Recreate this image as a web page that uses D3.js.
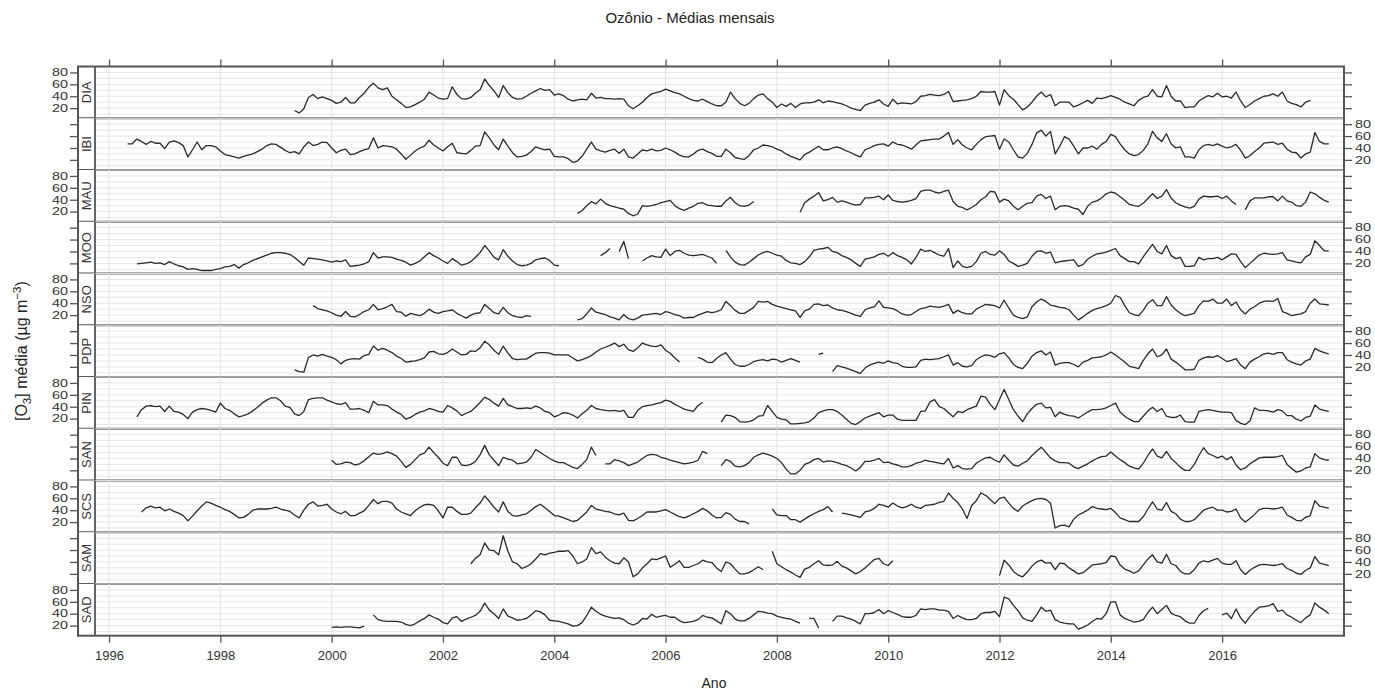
<!DOCTYPE html>
<html>
<head>
<meta charset="utf-8">
<script src="https://cdn.jsdelivr.net/npm/d3@7"></script>
<style>
  body { margin: 0; background: #fff; }
  text { font-family: Arial, "Liberation Sans", sans-serif; }
</style>
</head>
<body>
<svg id="chart" width="1375" height="693"></svg>
<script>
// Monthly ozone means per station; each series starts at [year, month] and runs month by month (null = no data)
const stations = ["DIA", "IBI", "MAU", "MOO", "NSO", "PDP", "PIN", "SAN", "SCS", "SAM", "SAD"];
const yTickValues = [20, 40, 60, 80];
const xTickValues = [1996, 1998, 2000, 2002, 2004, 2006, 2008, 2010, 2012, 2014, 2016];

const DIA_start = [1999, 5];
const DIA = [16,12,19,38,43,36,39,36,
  33,28,30,38,29,29,38,45,55,62,54,51,
  54,40,34,28,21,22,26,30,35,47,42,37,
  35,36,56,43,36,35,38,45,51,69,58,49,
  38,58,46,38,35,36,40,45,49,53,50,51,
  42,44,41,35,32,34,35,34,45,37,38,36,
  36,35,36,35,24,19,24,30,38,44,46,48,
  52,49,46,44,40,36,33,32,35,31,27,24,
  24,30,47,36,28,24,28,36,42,44,36,30,
  21,27,23,28,21,27,29,29,30,34,29,32,
  31,29,27,24,20,18,16,25,28,30,34,27,
  23,35,27,29,28,27,31,40,41,43,42,41,
  43,48,31,32,33,34,36,40,48,47,47,48,
  25,51,41,35,26,17,22,30,40,47,39,43,
  24,30,30,30,22,25,29,33,28,37,36,38,
  41,38,35,30,27,24,33,38,40,51,40,39,
  58,40,32,32,21,22,22,32,37,41,39,45,
  39,40,37,47,32,21,26,32,36,40,41,44,
  40,47,32,28,26,22,30,33];

const IBI_start = [1996, 5];
const IBI = [47,47,55,51,46,51,48,48,
  39,50,52,49,44,25,37,50,37,44,44,42,
  35,29,27,25,23,26,28,30,34,38,44,47,
  46,41,36,32,34,30,42,50,44,46,50,49,
  40,32,36,38,29,30,34,37,39,57,40,44,
  43,42,38,30,21,28,35,40,43,53,45,40,
  35,42,48,32,31,30,36,43,44,67,57,45,
  37,55,43,32,25,26,28,34,42,39,37,38,
  26,25,25,22,16,18,26,38,50,38,35,33,
  36,38,31,38,25,23,30,37,35,38,35,36,
  40,37,33,28,25,25,30,36,38,34,31,26,
  26,38,32,24,22,21,27,37,40,45,44,42,
  38,35,30,26,23,20,29,33,38,43,37,37,
  40,42,39,35,32,28,25,37,40,44,46,47,
  43,50,46,45,42,38,45,52,53,54,55,55,
  60,66,46,54,45,40,37,46,54,59,60,61,
  38,55,50,37,25,23,31,46,65,70,60,68,
  30,43,59,55,43,30,40,40,43,38,46,51,
  63,59,47,37,30,27,29,36,47,68,57,51,
  64,47,40,42,25,25,23,37,44,46,44,47,
  43,40,42,46,36,23,27,34,40,48,49,50,
  46,48,38,33,32,23,30,33,66,51,47,47];

const MAU_start = [2004, 6];
const MAU = [17,22,30,37,33,41,34,
  30,28,26,24,17,13,16,30,29,30,32,35,
  37,39,30,25,22,26,29,34,35,31,30,29,
  29,38,44,35,30,29,31,37,null,null,null,null,
  null,null,null,null,null,19,35,41,46,52,38,40,
  44,36,38,36,33,31,32,43,43,44,46,40,
  48,39,37,36,37,39,42,54,56,56,53,51,
  54,56,37,29,27,23,27,32,40,45,54,53,
  36,41,38,29,23,29,34,35,46,49,42,46,
  23,29,30,29,26,24,15,29,36,38,43,50,
  53,51,45,39,32,30,29,34,42,50,42,46,
  57,43,35,31,28,26,29,41,46,45,45,46,
  42,46,38,32,null,23,38,43,43,43,45,45,
  38,46,38,36,30,29,36,53,50,44,39,36];

const MOO_start = [1996, 7];
const MOO = [19,20,21,22,20,21,
  18,23,19,16,14,10,11,10,8,8,8,10,
  11,14,15,18,12,18,21,25,28,31,34,37,
  38,38,37,35,30,23,17,29,28,27,26,24,
  22,24,23,26,15,16,17,19,23,38,29,31,
  31,30,27,25,22,17,20,24,31,38,33,29,
  24,20,28,23,17,19,23,30,38,50,41,30,
  26,43,32,24,18,16,17,20,26,28,29,25,
  17,16,null,null,null,null,null,null,null,null,33,38,
  45,null,40,57,28,null,null,24,29,33,31,30,
  44,33,40,42,37,34,33,34,35,32,29,20,
  null,42,31,22,18,17,22,28,34,38,40,37,
  34,32,25,21,20,18,23,31,42,44,45,47,
  40,38,33,30,26,20,15,27,29,31,35,37,
  32,38,33,30,26,19,30,44,40,42,38,34,
  32,45,13,24,15,13,15,23,37,40,35,34,
  41,35,24,20,15,17,20,32,40,41,37,39,
  21,23,24,25,26,15,18,27,32,36,37,39,
  42,45,33,28,23,23,19,31,42,52,40,36,
  50,33,28,30,15,15,16,30,26,28,28,30,
  26,31,36,35,23,13,20,27,34,37,36,35,
  36,38,26,24,22,21,31,35,58,50,41,41];

const NSO_start = [1999, 9];
const NSO = [36,31,29,27,
  24,20,18,26,18,17,21,26,29,38,29,31,
  34,38,26,25,18,23,21,19,23,30,25,23,
  26,27,29,23,19,15,20,23,24,38,31,24,
  22,33,24,19,17,16,19,18,null,null,null,null,
  null,null,null,null,null,12,14,22,32,25,23,21,
  17,15,12,21,14,12,15,20,21,22,23,21,
  26,24,21,19,15,16,16,20,23,26,24,26,
  29,43,36,28,23,23,28,33,43,42,43,38,
  35,33,31,29,27,16,27,30,38,39,36,37,
  32,29,28,26,23,20,18,29,32,34,44,33,
  32,31,27,22,20,21,26,31,32,35,34,33,
  35,38,23,28,24,22,22,30,34,38,37,36,
  32,45,32,20,16,14,17,34,42,47,43,37,
  35,33,32,29,20,12,17,23,28,31,33,36,
  40,53,50,36,24,21,19,28,40,46,36,36,
  51,37,29,23,19,21,23,36,44,43,47,40,
  40,47,36,42,29,22,30,34,40,43,44,43,
  48,26,23,19,21,22,26,40,47,39,38,37];

const PDP_start = [1999, 5];
const PDP = [15,12,11,36,40,38,41,38,
  36,32,25,31,33,34,33,39,41,55,48,51,
  48,44,38,34,28,29,30,32,35,45,46,42,
  41,44,50,45,40,41,47,46,52,63,57,48,
  41,55,43,34,32,33,33,38,43,44,44,43,
  40,40,40,40,35,30,32,35,39,45,50,53,
  56,60,54,58,49,46,52,60,57,55,54,57,
  48,43,35,28,null,null,null,36,33,28,27,34,
  40,44,33,24,21,21,24,29,31,32,30,33,
  32,28,31,34,31,28,null,null,null,41,43,null,
  12,22,20,18,15,12,9,18,23,26,28,26,
  30,27,26,21,19,19,20,31,33,32,33,34,
  37,40,23,27,21,20,22,32,37,40,39,36,
  42,44,35,24,19,17,26,38,44,47,40,45,
  23,26,27,27,24,20,28,31,35,36,37,40,
  45,40,34,28,21,19,17,31,42,50,37,40,
  50,33,28,22,15,15,16,31,35,37,36,39,
  34,29,31,34,23,17,28,33,37,42,43,41,
  44,44,32,28,25,23,30,33,51,47,44,42];

const PIN_start = [1996, 7];
const PIN = [23,35,41,42,40,41,
  32,41,32,31,27,20,31,35,37,36,34,31,
  46,37,34,28,23,25,28,33,39,46,51,55,
  55,50,41,39,28,25,32,52,54,55,55,51,
  48,45,44,47,36,36,37,34,30,49,43,43,
  42,36,31,27,19,22,27,31,33,37,35,32,
  31,42,38,33,25,29,32,39,47,56,52,46,
  41,54,43,40,37,37,38,37,41,38,32,30,
  23,26,30,29,26,21,28,34,42,37,35,34,
  33,34,32,34,22,22,34,40,42,43,45,47,
  51,49,44,40,36,34,32,42,47,null,null,null,
  14,26,25,22,15,14,15,18,24,25,42,32,
  22,19,18,11,11,12,13,15,21,30,33,35,
  35,32,26,19,12,10,15,21,24,27,30,23,
  26,26,19,17,17,17,17,32,33,48,52,40,
  37,30,23,32,30,35,38,41,58,56,44,35,
  52,69,52,35,24,15,28,37,44,46,38,39,
  23,31,27,25,24,21,26,31,35,35,36,38,
  42,46,31,24,19,15,15,24,33,39,32,37,
  24,22,22,26,15,14,14,32,34,35,34,32,
  31,31,30,17,12,10,16,38,34,34,33,31,
  35,33,25,25,19,16,22,24,43,36,34,32];

const SAN_start = [2000, 1];
const SAN = [37,30,31,34,33,29,31,36,43,49,47,48,
  51,48,44,35,25,30,38,46,49,59,50,42,
  32,28,42,42,29,28,30,35,46,62,46,37,
  28,42,39,37,31,32,34,42,55,50,45,40,
  36,33,33,29,25,23,30,38,59,45,null,31,
  31,38,36,33,28,31,34,40,45,47,46,42,
  40,37,35,33,31,32,34,37,52,48,null,null,
  28,38,35,27,26,28,33,42,46,49,47,44,
  40,33,22,14,14,20,30,33,38,40,34,36,
  35,33,30,28,24,19,25,35,35,37,40,33,
  34,31,29,26,26,28,32,34,37,35,34,32,
  31,40,24,28,23,22,23,32,37,41,42,37,
  34,46,37,29,27,32,36,45,52,59,50,41,
  36,33,33,32,26,23,27,31,36,40,43,44,
  51,44,38,33,27,24,22,32,45,56,44,41,
  52,40,33,25,20,20,30,45,58,48,45,41,
  44,38,43,29,21,24,31,36,41,42,42,42,
  43,45,30,23,17,19,24,26,48,41,38,37];

const SCS_start = [1996, 8];
const SCS = [37,44,47,44,45,
  39,42,38,35,31,22,30,39,47,54,52,48,
  45,41,38,33,27,28,33,40,42,42,42,43,
  45,42,40,38,32,27,40,50,54,47,48,50,
  42,37,34,38,31,31,35,39,48,58,51,55,
  55,52,42,37,34,31,39,45,49,50,48,39,
  27,45,45,38,33,33,35,44,52,64,55,45,
  37,54,38,31,30,32,34,40,46,50,44,38,
  31,30,27,24,21,23,30,37,48,42,40,38,
  37,34,32,35,23,22,26,31,37,37,37,39,
  41,37,33,29,27,30,34,38,43,39,32,27,
  28,36,33,25,21,21,17,null,null,null,null,42,
  32,31,31,24,24,20,25,30,34,38,41,46,
  37,null,35,34,32,30,28,37,39,43,50,48,
  45,52,47,44,46,50,45,43,48,49,50,53,
  55,69,60,53,42,26,48,56,69,65,58,51,
  60,62,52,43,38,47,52,56,59,60,58,52,
  10,14,15,12,25,32,36,40,46,43,42,41,
  43,36,27,24,21,21,21,29,42,54,42,40,
  53,38,34,25,21,21,24,32,40,43,45,40,
  40,37,38,42,27,20,26,33,41,43,43,42,
  43,45,32,28,23,22,28,31,56,47,45,43];

const SAM_start = [2002, 7];
const SAM = [37,46,52,72,60,59,
  52,84,58,40,37,29,32,37,45,54,52,55,
  56,58,58,59,50,37,40,45,64,54,57,48,
  42,38,37,47,40,15,20,30,37,45,44,47,
  50,31,36,42,31,31,34,37,43,40,39,30,
  24,40,37,28,20,20,22,27,32,27,null,58,
  37,32,27,23,18,14,28,31,37,42,35,34,
  35,41,33,30,25,20,24,30,37,44,46,37,
  34,42,null,null,null,null,null,null,null,null,null,null,
  null,null,null,null,null,null,null,null,null,null,null,null,
  17,43,35,24,18,15,23,33,40,43,38,39,
  27,38,37,30,25,20,22,28,35,36,37,39,
  50,49,35,28,25,21,25,35,45,52,40,38,
  53,37,34,24,20,20,27,38,42,40,43,46,
  38,36,36,42,27,19,26,31,35,36,35,34,
  35,37,29,26,21,19,26,30,49,38,36,34];

const SAD_start = [2000, 1];
const SAD = [17,18,17,18,18,17,16,19,null,38,30,28,
  27,27,27,26,22,20,23,28,32,38,34,31,
  25,23,33,35,27,31,34,37,44,58,46,40,
  32,48,36,33,29,30,32,38,45,43,38,29,
  28,27,25,23,19,20,25,37,51,44,39,36,
  34,32,33,30,24,21,24,32,31,39,34,36,
  37,34,34,28,25,26,27,30,37,34,33,28,
  23,45,40,31,28,28,32,38,44,43,41,40,
  36,34,32,31,27,24,null,32,32,16,null,null,
  27,36,36,33,31,27,23,40,40,42,47,40,
  45,42,39,35,34,34,37,48,47,48,48,46,
  46,44,32,37,33,30,30,32,40,42,42,44,
  35,68,65,54,45,33,29,27,38,51,44,46,
  30,26,24,23,23,14,17,21,27,32,31,40,
  60,60,38,32,29,26,27,30,42,51,40,47,
  54,41,37,35,28,24,24,37,45,49,null,null,
  38,41,32,48,33,24,35,44,51,52,53,57,
  44,46,38,34,29,25,33,38,58,51,46,40];

const seriesData = {
  DIA: [DIA_start, DIA], IBI: [IBI_start, IBI], MAU: [MAU_start, MAU],
  MOO: [MOO_start, MOO], NSO: [NSO_start, NSO], PDP: [PDP_start, PDP],
  PIN: [PIN_start, PIN], SAN: [SAN_start, SAN], SCS: [SCS_start, SCS],
  SAM: [SAM_start, SAM], SAD: [SAD_start, SAD]
};

// Turn a start month plus a run of monthly values into time/value pairs
function toMonthly(start, vals) {
  return vals.map((v, i) => ({ t: start[0] + (start[1] - 1 + i) / 12, v: v }));
}

// ---- layout ----
const svg = d3.select("#chart");
const frameLeft = 78, stripW = 17, plotLeft = frameLeft + stripW, plotRight = 1344;
const frameTop = 66.5, frameBottom = 635.7;
const panelH = (frameBottom - frameTop) / stations.length;
const axisColor = "#555", textColor = "#333";

const x = d3.scaleLinear().domain([1995.748, 2018.19]).range([plotLeft, plotRight]);

// title and axis titles
svg.append("text").attr("x", 690).attr("y", 23).attr("text-anchor", "middle")
  .attr("font-size", 15).attr("fill", "#222").text("Ozônio - Médias mensais");

svg.append("text").attr("x", (frameLeft + plotRight) / 2 + 3).attr("y", 688)
  .attr("text-anchor", "middle").attr("font-size", 14).attr("fill", "#222").text("Ano");

const yTitle = svg.append("text")
  .attr("transform", `translate(27,${(frameTop + frameBottom) / 2}) rotate(-90)`)
  .attr("text-anchor", "middle").attr("font-size", 16).attr("fill", "#222");
yTitle.append("tspan").text("[O");
yTitle.append("tspan").attr("font-size", 11.5).attr("dy", 4).text("3");
yTitle.append("tspan").attr("dy", -4).text("] média (µg m");
yTitle.append("tspan").attr("font-size", 11.5).attr("dy", -6).text("−3");
yTitle.append("tspan").attr("dy", 6).text(")");

const line = d3.line().defined(d => d.v !== null).x(d => x(d.t));

stations.forEach((name, i) => {
  const top = frameTop + i * panelH, bottom = top + panelH;
  const y = d3.scaleLinear().domain([3, 90]).range([bottom, top]);
  const g = svg.append("g");

  // background grid
  g.selectAll("line.hg").data(d3.range(10, 91, 10)).join("line")
    .attr("x1", plotLeft).attr("x2", plotRight)
    .attr("y1", d => y(d)).attr("y2", d => y(d))
    .attr("stroke", "#e6e6e6").attr("stroke-width", 1);
  g.selectAll("line.vg").data(xTickValues).join("line")
    .attr("x1", d => x(d)).attr("x2", d => x(d))
    .attr("y1", top).attr("y2", bottom)
    .attr("stroke", "#e2e2e2").attr("stroke-width", 1);

  // data line
  const [start, vals] = seriesData[name];
  g.append("path").datum(toMonthly(start, vals))
    .attr("d", line.y(d => y(d.v)))
    .attr("fill", "none").attr("stroke", "#2a2a2a").attr("stroke-width", 1.3)
    .attr("stroke-linejoin", "round");

  // y axes: labels alternate between left and right
  const labelLeft = i % 2 === 0;
  const leftAxis = d3.axisLeft(y).tickValues(yTickValues).tickSize(8).tickPadding(2)
    .tickFormat(labelLeft ? d3.format("d") : () => "");
  const rightAxis = d3.axisRight(y).tickValues(yTickValues).tickSize(8).tickPadding(3)
    .tickFormat(labelLeft ? () => "" : d3.format("d"));
  [[leftAxis, frameLeft], [rightAxis, plotRight]].forEach(([ax, xp]) => {
    const ag = svg.append("g").attr("transform", `translate(${xp},0)`).call(ax);
    ag.select(".domain").remove();
    ag.selectAll(".tick line").attr("stroke", axisColor).attr("stroke-width", 1.3);
    ag.selectAll(".tick text").filter(function () { return this.textContent === ""; }).remove();
    ag.selectAll(".tick text").attr("font-size", 10.3).attr("fill", textColor)
      .attr("textLength", 16).attr("lengthAdjust", "spacingAndGlyphs")
      .attr("font-family", "Arial, 'Liberation Sans', sans-serif");
  });

  // strip with station name
  g.append("rect").attr("x", frameLeft).attr("y", top).attr("width", stripW).attr("height", panelH)
    .attr("fill", "#fff").attr("stroke", "none");
  g.append("text")
    .attr("transform", `translate(${frameLeft + stripW / 2 + 4.5},${(top + bottom) / 2}) rotate(-90)`)
    .attr("text-anchor", "middle").attr("font-size", 13).attr("fill", textColor).text(name);
  g.append("line").attr("x1", plotLeft).attr("x2", plotLeft).attr("y1", top).attr("y2", bottom)
    .attr("stroke", axisColor).attr("stroke-width", 1.8);

  // separator below each panel
  if (i < stations.length - 1) {
    g.append("line").attr("x1", frameLeft).attr("x2", plotRight).attr("y1", bottom).attr("y2", bottom)
      .attr("stroke", axisColor).attr("stroke-width", 2);
  }
});

// x axes on top (ticks only) and bottom (labels)
const topAxis = svg.append("g").attr("transform", `translate(0,${frameTop})`)
  .call(d3.axisTop(x).tickValues(xTickValues).tickSize(7).tickFormat(() => ""));
topAxis.selectAll(".tick text").remove();
const bottomAxis = svg.append("g").attr("transform", `translate(0,${frameBottom})`)
  .call(d3.axisBottom(x).tickValues(xTickValues).tickSize(7).tickPadding(8).tickFormat(d3.format("d")));
[topAxis, bottomAxis].forEach(ag => {
  ag.select(".domain").remove();
  ag.selectAll(".tick line").attr("stroke", axisColor).attr("stroke-width", 1.3);
  ag.selectAll(".tick text").attr("font-size", 13).attr("fill", textColor)
    .attr("font-family", "Arial, 'Liberation Sans', sans-serif");
});

// outer frame
svg.append("rect").attr("x", frameLeft).attr("y", frameTop)
  .attr("width", plotRight - frameLeft).attr("height", frameBottom - frameTop)
  .attr("fill", "none").attr("stroke", axisColor).attr("stroke-width", 2);
</script>
</body>
</html>
